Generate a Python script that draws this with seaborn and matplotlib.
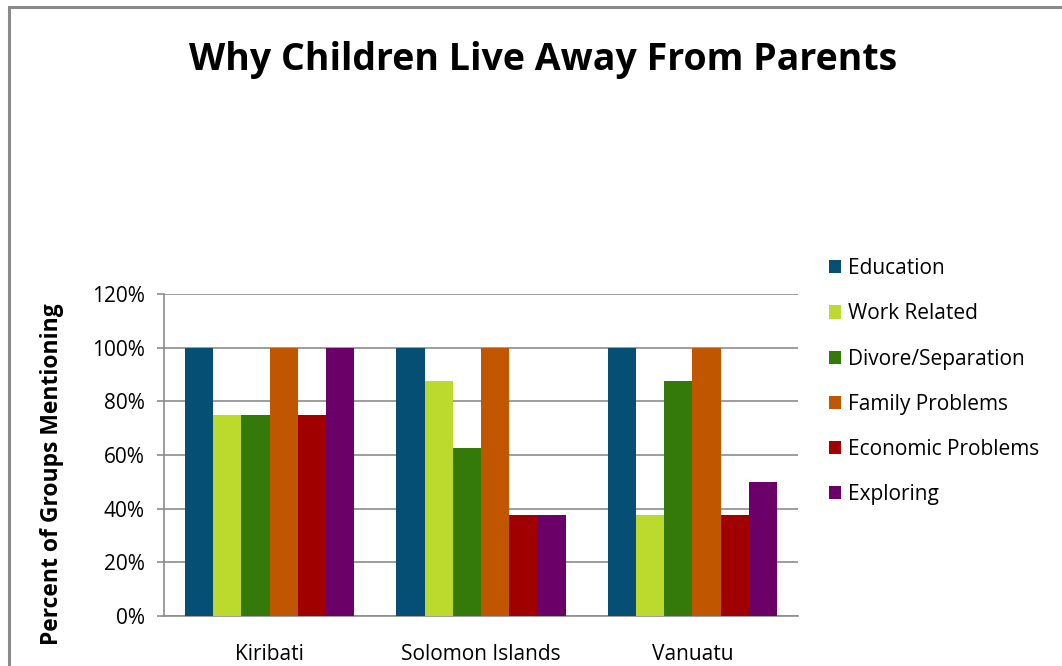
import matplotlib
matplotlib.use("Agg")
import matplotlib.pyplot as plt
from matplotlib.patches import Rectangle
from matplotlib.ticker import FixedLocator, PercentFormatter
import seaborn as sns
import pandas as pd

countries = ["Kiribati", "Solomon Islands", "Vanuatu"]
reasons = ["Education", "Work Related", "Divore/Separation",
           "Family Problems", "Economic Problems", "Exploring"]
education = [100, 100, 100]
work_related = [75, 87.5, 37.5]
divorce = [75, 62.5, 87.5]
family_problems = [100, 100, 100]
economic_problems = [75, 37.5, 37.5]
exploring = [100, 37.5, 50]
colors = ["#044F73", "#BCDA2E", "#347A0A", "#C05600", "#A00000", "#6A0068"]

series = [education, work_related, divorce, family_problems, economic_problems, exploring]
rows = []
for reason, vals in zip(reasons, series):
    for c, v in zip(countries, vals):
        rows.append({"Country": c, "Reason": reason, "Value": v})
df = pd.DataFrame(rows)

sns.set_theme(style="white")
plt.rcParams["font.family"] = ["Open Sans", "DejaVu Sans"]
plt.rcParams["text.color"] = "black"
plt.rcParams["axes.labelcolor"] = "black"
plt.rcParams["xtick.color"] = "black"
plt.rcParams["ytick.color"] = "black"

fig = plt.figure(figsize=(10.62, 6.66), dpi=100)
ax = fig.add_axes([164 / 1062, 1 - 616 / 666, (798 - 164) / 1062, (616 - 294) / 666])

sns.barplot(data=df, x="Country", y="Value", hue="Reason", order=countries,
            hue_order=reasons, palette=colors, width=0.8, saturation=1,
            errorbar=None, ax=ax, edgecolor="none", linewidth=0, zorder=3)

ax.set_xlim(-0.5, 2.5)
ax.set_ylim(0, 120)
ax.set_yticks(range(0, 121, 20))
ax.yaxis.set_major_formatter(PercentFormatter(decimals=0))
ax.yaxis.grid(True, color="#8c8c8c", linewidth=1.2, zorder=0)
ax.set_axisbelow(True)
ax.xaxis.set_minor_locator(FixedLocator([-0.5, 0.5, 1.5, 2.5]))
ax.tick_params(axis="x", which="major", length=0, pad=20, labelsize=15, labelcolor="black")
ax.tick_params(axis="x", which="minor", length=5, width=1.2, color="#8c8c8c", direction="out")
ax.tick_params(axis="y", length=5, width=1.2, color="#8c8c8c", direction="out",
               labelsize=15, pad=9, left=True, labelcolor="black")
for s in ["top", "right"]:
    ax.spines[s].set_visible(False)
for s in ["left", "bottom"]:
    ax.spines[s].set_color("#8c8c8c")
    ax.spines[s].set_linewidth(1.2)
ax.set_xlabel("")
ax.set_ylabel("Percent of Groups Mentioning", fontsize=16.5, fontweight="bold", color="black")
ax.yaxis.set_label_coords(-0.157, 0.441)

leg = ax.legend(loc="upper left", bbox_to_anchor=(1.035, 1.137), frameon=False,
                fontsize=15, handlelength=0.6, handleheight=0.6, handletextpad=0.35,
                labelspacing=1.16, borderaxespad=0)
for t in leg.get_texts():
    t.set_color("black")

fig.text(0.511, 0.91, "Why Children Live Away From Parents", ha="center", va="center",
         fontsize=27, fontweight="bold", color="black")

fig.patches.append(Rectangle((8.5 / 1062, -0.1), 1.2, 1 - 7 / 666 + 0.1,
                             transform=fig.transFigure, fill=False,
                             edgecolor="#8a8a8a", linewidth=2.2))

fig.savefig("out.png", dpi=100)
